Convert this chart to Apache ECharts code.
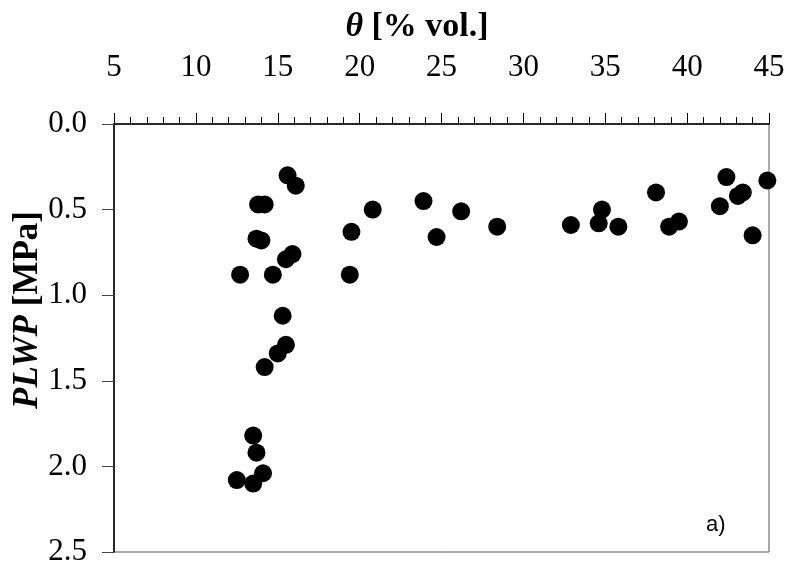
<!DOCTYPE html>
<html>
<head>
<meta charset="utf-8">
<script src="https://cdn.jsdelivr.net/npm/echarts@6/dist/echarts.min.js"></script>
<style>
  html, body { margin: 0; padding: 0; background: #fff; }
  #main { width: 792px; height: 571px; }
</style>
</head>
<body>
<div id="main"></div>
<script>
// soil water content theta [% vol.]
var theta = [
  15.6, 16.1, 13.8, 14.2, 13.7, 14.0, 12.7, 14.7, 15.5, 15.9,
  19.4, 19.5, 15.3, 15.5, 15.0, 14.2, 13.5, 13.7, 14.1, 12.5,
  13.5, 20.8, 23.9, 24.7, 26.2, 28.4, 32.9, 34.8, 34.6, 35.8,
  38.1, 38.9, 39.5, 42.4, 42.0, 43.1, 43.4, 44.0, 44.9
];
// PLWP [MPa]
var plwp = [
  0.30, 0.36, 0.47, 0.47, 0.67, 0.68, 0.88, 0.88, 0.79, 0.76,
  0.88, 0.63, 1.12, 1.29, 1.34, 1.42, 1.82, 1.92, 2.04, 2.08,
  2.10, 0.50, 0.45, 0.66, 0.51, 0.60, 0.59, 0.50, 0.58, 0.60,
  0.40, 0.60, 0.57, 0.31, 0.48, 0.42, 0.40, 0.65, 0.33
];
var xTicks = [5, 45, 5];
var yTicks = [0, 2.5, 0.5];

var points = theta.map(function (t, i) { return [t, plwp[i]]; });
var serif = "'Liberation Serif', serif";

var chart = echarts.init(document.getElementById('main'), null, { renderer: 'canvas' });
chart.setOption({
  animation: false,
  backgroundColor: '#fff',
  grid: { left: 114, right: 23, top: 124, bottom: 19, show: true, borderColor: '#555', borderWidth: 1 },
  xAxis: {
    type: 'value',
    position: 'top',
    min: xTicks[0], max: xTicks[1], interval: xTicks[2],
    axisLine: { lineStyle: { color: '#000', width: 1.5 } },
    axisTick: { inside: false, length: 11, lineStyle: { color: '#000' } },
    minorTick: { show: true, splitNumber: 5, length: 7, lineStyle: { color: '#000' } },
    splitLine: { show: false },
    axisLabel: { color: '#000', fontFamily: serif, fontSize: 31, margin: 41 }
  },
  yAxis: {
    type: 'value',
    inverse: true,
    min: yTicks[0], max: yTicks[1], interval: yTicks[2],
    axisLine: { show: true, lineStyle: { color: '#000', width: 1.5 } },
    axisTick: { show: true, inside: false, length: 12, lineStyle: { color: '#444' } },
    splitLine: { show: false },
    axisLabel: {
      color: '#000', fontFamily: serif, fontSize: 31, margin: 27,
      formatter: function (v) { return v.toFixed(1); }
    }
  },
  graphic: [
    {
      type: 'text', x: 417, y: 27,
      style: {
        text: '{i|θ} [% vol.]',
        font: 'bold 34px ' + serif,
        fill: '#000',
        align: 'center', verticalAlign: 'middle',
        rich: { i: { fontStyle: 'italic', fontWeight: 'bold', fontSize: 34, fontFamily: serif } }
      }
    },
    {
      type: 'text', x: 28, y: 310, rotation: Math.PI / 2,
      style: {
        text: '{i|PLWP} [MPa]',
        font: 'bold 35px ' + serif,
        fill: '#000',
        align: 'center', verticalAlign: 'middle',
        rich: { i: { fontStyle: 'italic', fontWeight: 'bold', fontSize: 35, fontFamily: serif } }
      }
    },
    {
      type: 'text', left: 706, top: 514,
      style: { text: 'a)', font: '22px Arial, sans-serif', fill: '#000' }
    }
  ],
  series: [{
    type: 'scatter',
    data: points,
    symbol: 'circle',
    symbolSize: 18,
    itemStyle: { color: '#000', opacity: 1 }
  }]
});
</script>
</body>
</html>
